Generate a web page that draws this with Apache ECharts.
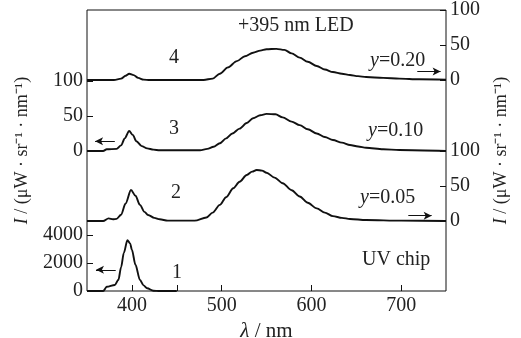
<!DOCTYPE html>
<html>
<head>
<meta charset="utf-8">
<script src="https://cdn.jsdelivr.net/npm/echarts@6/dist/echarts.min.js"></script>
<style>
  html, body { margin: 0; padding: 0; background: #fff; }
  #chart { width: 521px; height: 338px; }
</style>
</head>
<body>
<div id="chart"></div>
<script>
// wavelength (nm) / intensity for each curve
// curve 4: +395 nm LED, y=0.20 (right axis, top panel)
var wl4 = [350, 380, 388, 393, 397, 402, 407, 413, 420, 480, 490, 498, 507, 517, 526, 535, 543, 550, 561, 570, 578, 587, 596, 606, 615, 624, 634, 643, 652, 661, 680, 698, 720, 750];
var int4 = [0, 0, 2, 6, 9, 7, 3, 0.5, 0, 0, 2, 9, 18, 27, 34, 39, 42, 44, 44.5, 43, 38, 32, 26, 20, 15, 11.4, 9, 7.1, 5.5, 4.3, 3, 2, 1, 0.5];
// curve 3: y=0.10 (left axis)
var wl3 = [350, 368, 372, 383, 388, 392, 397, 401, 405, 411, 417, 424, 431, 476, 484, 491, 498, 505, 512, 520, 528, 535, 543, 550, 560, 568, 578, 587, 596, 606, 615, 624, 634, 643, 652, 661, 680, 698, 750];
var int3 = [0, 0, 2.5, 3, 8, 18, 28.6, 23, 14, 7, 3.8, 2, 1, 1, 3, 6, 11, 18, 25, 32, 40, 46.7, 51, 53, 52.5, 48, 42, 37, 31, 25, 20, 15.7, 12, 8.6, 6.5, 4.7, 2.5, 1.4, 0];
// curve 2: y=0.05 (right axis)
var wl2 = [350, 368, 374, 379, 383, 388, 393, 399, 404, 409, 414, 418, 425, 431, 440, 470, 483, 490, 498, 505, 513, 520, 528, 534, 539, 545, 550, 559, 568, 578, 587, 596, 606, 615, 624, 634, 643, 661, 700, 750];
var int2 = [0, 0, 3.8, 2.5, 3, 9, 25, 44.3, 36, 23, 13, 8.6, 4.5, 2.4, 0.5, 0.5, 5, 12, 23, 34, 46.7, 56, 65.7, 70.5, 72.9, 72, 69, 62, 54, 44, 35, 26, 18, 12, 7, 4.5, 2.9, 1.4, 0.5, 0];
// curve 1: UV chip (left axis)
var wl1 = [350, 368, 372, 381, 385, 388, 391, 395, 398, 400, 404, 409, 413, 417, 424, 430, 450];
var int1 = [0, 0, 300, 430, 800, 1700, 2710, 3620, 3400, 2950, 1870, 790, 400, 200, 20, 0, 0];

// tick labels
var xLabels = [400, 500, 600, 700];
var xTicks = [400, 450, 500, 600, 700];
var smallTicks = [0, 50, 100];
var chipTicks = [0, 2000, 4000];

// arrows [x from, x to, y] in data units, head at "to"
var arrow4 = [718, 744, 12];
var arrow3 = [381, 359, 14];
var arrow2 = [708, 734, 7.6];
var arrow1 = [382, 360, 1510];

var FONT = 'Liberation Serif';
var INK = '#111';

function pairs(xs, ys) {
  return xs.map(function (x, i) { return [x, ys[i]]; });
}

function arrowLine(a) {
  return {
    silent: true,
    symbol: ['none', 'arrow'],
    symbolSize: [6, 8],
    label: { show: false },
    lineStyle: { color: INK, width: 1, type: 'solid' },
    data: [[{ coord: [a[0], a[2]] }, { coord: [a[1], a[2]] }]]
  };
}

function panelY(grid, pos, max, ticks) {
  return {
    gridIndex: grid,
    type: 'value',
    position: pos,
    min: 0,
    max: max,
    axisLine: { show: false },
    splitLine: { show: false },
    axisTick: { inside: true, length: 6, customValues: ticks, lineStyle: { color: INK } },
    axisLabel: {
      customValues: ticks, fontFamily: FONT, fontSize: 20, color: '#222', margin: 4,
      formatter: function (v) { return String(v); }
    }
  };
}

function hiddenX(grid) {
  return { gridIndex: grid, type: 'value', min: 350, max: 750, show: false };
}

function curve(idx, xs, ys, arrow) {
  return {
    type: 'line',
    xAxisIndex: idx,
    yAxisIndex: idx,
    data: pairs(xs, ys),
    showSymbol: false,
    smooth: 0.3,
    smoothMonotone: 'x',
    lineStyle: { color: INK, width: 1.9 },
    markLine: arrowLine(arrow)
  };
}

function gridBox(top, height) {
  return { left: 87, right: 75, top: top, height: height, outerBoundsMode: 'none', containLabel: false };
}

var yTitle = '{i|I} / (μW · sr⁻¹ · nm⁻¹)';
var titleStyle = {
  fontFamily: FONT, fontSize: 18, color: '#222',
  rich: { i: { fontFamily: FONT, fontSize: 18, fontStyle: 'italic', color: '#222' } }
};

var chart = echarts.init(document.getElementById('chart'), null, { renderer: 'canvas' });
chart.setOption({
  animation: false,
  backgroundColor: '#fff',
  grid: [
    gridBox(10, 70),
    gridBox(81, 70),
    gridBox(151, 70),
    gridBox(221, 70),
    // frame around everything
    {
      left: 87, right: 75, top: 10, height: 281, outerBoundsMode: 'none', containLabel: false,
      show: true, borderColor: INK, borderWidth: 1, backgroundColor: 'transparent'
    }
  ],
  xAxis: [
    hiddenX(0), hiddenX(1), hiddenX(2), hiddenX(3),
    {
      gridIndex: 4,
      type: 'value',
      min: 350,
      max: 750,
      axisLine: { show: false },
      splitLine: { show: false },
      axisTick: { inside: true, length: 6, customValues: xTicks, lineStyle: { color: INK } },
      axisLabel: { customValues: xLabels, fontFamily: FONT, fontSize: 20, color: '#222', margin: 5 },
      name: '{i|λ} / nm',
      nameLocation: 'middle',
      nameGap: 25,
      nameTextStyle: {
        fontFamily: FONT, fontSize: 21, color: '#222',
        rich: { i: { fontFamily: FONT, fontSize: 21, fontStyle: 'italic', color: '#222' } }
      }
    }
  ],
  yAxis: [
    panelY(0, 'right', 100, smallTicks),
    panelY(1, 'left', 100, smallTicks),
    panelY(2, 'right', 100, smallTicks),
    panelY(3, 'left', 5000, chipTicks),
    {
      gridIndex: 4, type: 'value', position: 'left', min: 0, max: 1,
      axisLine: { show: false }, axisTick: { show: false }, axisLabel: { show: false }, splitLine: { show: false },
      name: yTitle, nameLocation: 'middle', nameRotate: 90, nameGap: 56,
      nameTextStyle: titleStyle
    },
    {
      gridIndex: 4, type: 'value', position: 'right', min: 0, max: 1,
      axisLine: { show: false }, axisTick: { show: false }, axisLabel: { show: false }, splitLine: { show: false },
      name: yTitle, nameLocation: 'middle', nameRotate: 90, nameGap: 46,
      nameTextStyle: titleStyle
    }
  ],
  series: [
    curve(0, wl4, int4, arrow4),
    curve(1, wl3, int3, arrow3),
    curve(2, wl2, int2, arrow2),
    curve(3, wl1, int1, arrow1)
  ],
  graphic: [
    { type: 'text', left: 169, top: 48, style: { text: '4', font: '20px "Liberation Serif"', fill: '#222' } },
    { type: 'text', left: 169, top: 119, style: { text: '3', font: '20px "Liberation Serif"', fill: '#222' } },
    { type: 'text', left: 171, top: 183, style: { text: '2', font: '20px "Liberation Serif"', fill: '#222' } },
    { type: 'text', left: 172, top: 263, style: { text: '1', font: '20px "Liberation Serif"', fill: '#222' } },
    { type: 'text', left: 238, top: 16, style: { text: '+395 nm LED', font: '20px "Liberation Serif"', fill: '#222' } },
    {
      type: 'text', left: 370, top: 51,
      style: { text: '{i|y}=0.20', font: '20px "Liberation Serif"', fill: '#222', rich: { i: { fontStyle: 'italic', fontFamily: FONT, fontSize: 20 } } }
    },
    {
      type: 'text', left: 368, top: 121,
      style: { text: '{i|y}=0.10', font: '20px "Liberation Serif"', fill: '#222', rich: { i: { fontStyle: 'italic', fontFamily: FONT, fontSize: 20 } } }
    },
    {
      type: 'text', left: 360, top: 188,
      style: { text: '{i|y}=0.05', font: '20px "Liberation Serif"', fill: '#222', rich: { i: { fontStyle: 'italic', fontFamily: FONT, fontSize: 20 } } }
    },
    { type: 'text', left: 362, top: 250, style: { text: 'UV chip', font: '20px "Liberation Serif"', fill: '#222' } }
  ]
});
</script>
</body>
</html>
